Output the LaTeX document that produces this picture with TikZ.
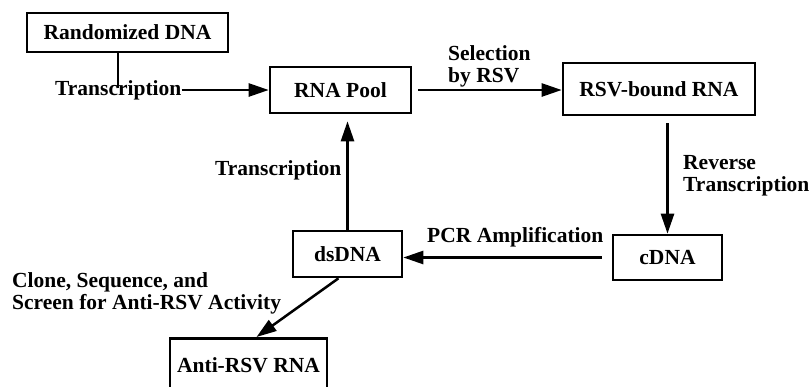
\documentclass[tikz,border=0pt]{standalone}
\usepackage{fontspec}
\setmainfont{Liberation Serif}
\usetikzlibrary{arrows.meta}
\begin{document}
\begin{tikzpicture}[x=1pt,y=-1pt,
  every node/.style={font=\fontsize{21.5}{22}\selectfont\bfseries},
  box/.style={draw, line width=2.6pt, inner sep=0pt, align=center},
  lbl/.style={inner sep=0pt, align=left},
  conn/.style={line width=2.5pt},
  arr/.style={conn, -{Triangle[length=20pt,width=13pt]}}]
\useasboundingbox[fill=white] (0,0) rectangle (811,386);
% boxes
\node[box, minimum width=201pt, minimum height=39pt] (rd) at (127.5,32.5) {Randomized DNA};
\node[box, minimum width=141pt, minimum height=46pt] (pool) at (340.5,90) {RNA Pool};
\node[box, minimum width=192pt, minimum height=52pt] (bound) at (659,89) {RSV-bound RNA};
\node[box, minimum width=109pt, minimum height=45pt] (cdna) at (667.5,257.5) {cDNA};
\node[box, minimum width=109pt, minimum height=46pt] (ds) at (347.5,254) {dsDNA};
\node[box, minimum width=157pt, minimum height=54pt, anchor=north] (anti) at (248.5,337) {Anti-RSV RNA};
% labels
\node[lbl, anchor=base west] (t1) at (55,95) {Transcription};
\node[lbl, anchor=north west] (sel) at (448,45) {Selection\\by RSV};
\node[lbl, anchor=north west] (rev) at (683,155) {Reverse\\Transcription};
\node[lbl, anchor=base west] (pcr) at (427,242) {PCR Amplification};
\node[lbl, anchor=base west] (t2) at (215,175) {Transcription};
\node[lbl, anchor=north west] (clone) at (12,272) {Clone, Sequence, and\\Screen for Anti-RSV Activity};
% connectors
\coordinate (j) at (118,88);
\draw[conn] (j |- rd.south) -- (j);
\draw[arr] (t1.east |- pool.west) -- (pool.west);
\draw[arr, shorten <=6pt] (pool.east) -- (pool.east -| bound.west);
\draw[arr, shorten <=7pt] (bound.south -| cdna.north) -- (cdna.north);
\draw[arr, shorten <=10pt] (cdna.west) -- (cdna.west -| ds.east);
\draw[arr, shorten >=7pt] (ds.north) -- (ds.north |- pool.south);
\draw[arr] ([xshift=-9pt]ds.south) -- ([xshift=8pt]anti.north);
\end{tikzpicture}
\end{document}
